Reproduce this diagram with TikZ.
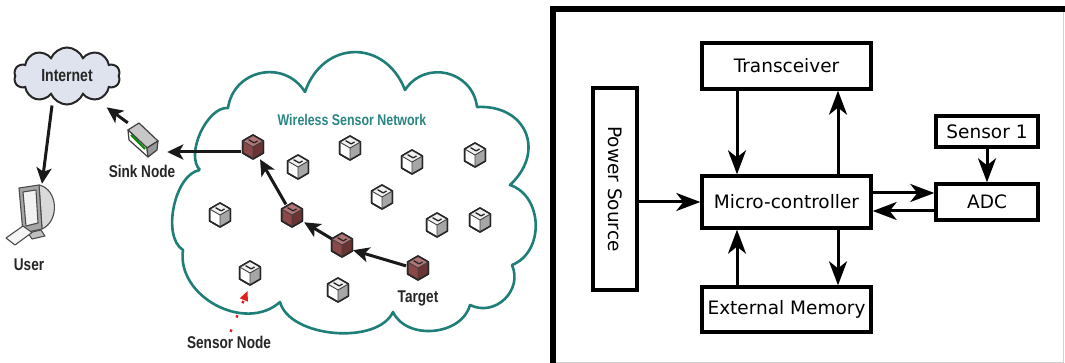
\documentclass[tikz,border=0pt]{standalone}
\usepackage{fontspec}
\setmainfont{DejaVu Sans}
\newfontfamily\tagfont[FakeStretch=0.8]{Liberation Sans}
\usetikzlibrary{arrows.meta,shapes.symbols}

\definecolor{wsnteal}{HTML}{1F7F78}
\definecolor{wsntext}{HTML}{2A8585}
\definecolor{netfill}{HTML}{DEE3EE}
\definecolor{pointer}{HTML}{E0201A}
% face colours of the sensor motes
\colorlet{whitetop}{black!6}
\colorlet{whiteleft}{white}
\colorlet{whiteright}{black!35}
\definecolor{redtop}{HTML}{B27575}
\definecolor{redleft}{HTML}{8A4848}
\definecolor{redright}{HTML}{6A3434}

\tikzset{
  box/.style={draw, line width=3.4pt, inner sep=0pt, font=\fontsize{18.5}{22}\selectfont},
  flow/.style={line width=3pt, -{Stealth[length=24pt,width=18pt,inset=7pt]}},
  link/.style={line width=3pt, black!90, -{Stealth[length=16pt,width=15pt,inset=4pt]}},
  tag/.style={font=\tagfont\bfseries\fontsize{17}{19}\selectfont, text=black!85, inner sep=0pt},
  motenode/.style={circle, minimum size=24pt, inner sep=0pt},
  pics/mote/.style={code={
    \filldraw[fill=#1left, draw=black!85, line width=1.5pt, line join=round]
      (0,-12) -- (10.4,-6) -- (10.4,6) -- (0,12) -- (-10.4,6) -- (-10.4,-6) -- cycle;
    \fill[#1top] (0,-12) -- (10.4,-6) -- (0,0) -- (-10.4,-6) -- cycle;
    \fill[#1right] (0,0) -- (10.4,-6) -- (10.4,6) -- (0,12) -- cycle;
    \draw[black!85, line width=1.5pt, line join=round]
      (0,-12) -- (10.4,-6) -- (10.4,6) -- (0,12) -- (-10.4,6) -- (-10.4,-6) -- cycle;
    \draw[black!75, line width=0.9pt] (-10.4,-6) -- (0,0) -- (10.4,-6) (0,0) -- (0,12);
    \draw[black!85, line width=1.3pt, line join=round] (-4.4,-7.3) -- (1.2,-4.1) -- (4.5,-6);
  }}
}

\begin{document}
\begin{tikzpicture}[x=1pt,y=-1pt]
\useasboundingbox (0,0) rectangle (1065,363);
\fill[white] (0,0) rectangle (1065,363);

% ---------------- left: wireless sensor network ----------------
% network cloud
\draw[wsnteal, line width=2.6pt, line join=round]
  (200,170) to[bend left=70, looseness=0.8] (228,108)
            to[bend left=70, looseness=1.27] (305,92)
            to[bend left=70, looseness=1.41] (405,90)
            to[bend left=70, looseness=1.27] (477,107)
            to[bend left=70, looseness=1.49] (510,185)
            to[bend left=70, looseness=1.12] (512,265)
            to[bend left=70, looseness=1.23] (470,305)
            to[bend left=70, looseness=1.05] (393,312)
            to[bend left=70, looseness=0.83] (280,302)
            to[bend left=70, looseness=1.09] (183,250)
            to[bend left=70, looseness=0.8] (200,170);
\node[font=\tagfont\bfseries\fontsize{15.5}{18}\selectfont, text=wsntext, inner sep=0pt]
  (wsnlabel) at (352,120) {Wireless Sensor Network};

% internet
\node[cloud, cloud puffs=10, cloud puff arc=135, aspect=2, draw=black!85, fill=netfill,
      line width=2pt, minimum width=106pt, minimum height=57pt, inner sep=0pt,
      font=\tagfont\bfseries\fontsize{17.5}{19}\selectfont, text=black!85]
  (internet) at (67,76) {Internet};

% user workstation
\node[inner sep=0pt, minimum width=40pt, minimum height=58pt] (user) at (42,213) {};
\begin{scope}[shift={(user.center)}, draw=black!70, line width=1.1pt, line join=round]
  \filldraw[fill=black!15] (-3,-28) .. controls (16,-24) and (18,8) .. (0,16) -- cycle;
  \filldraw[fill=black!35] (-23,-25) -- (-3,-28) -- (0,16) -- (-19,20) -- cycle;
  \filldraw[fill=black!5] (-19,-21) -- (-6,-23) -- (-4,10) -- (-16,13) -- cycle;
  \filldraw[fill=black!25] (-14,20) -- (-1,17) -- (3,23) -- (-10,26) -- cycle;
  \filldraw[fill=black!4] (-36,25) -- (-19,13) -- (-10,19.5) -- (-27,32) -- cycle;
\end{scope}
\node[tag] (userlabel) at (29,265) {User};

% sink node
\node[inner sep=0pt, minimum width=30pt, minimum height=34pt] (sink) at (143,140) {};
\begin{scope}[shift={(sink.center)}, draw=black!75, line width=1.2pt, line join=round]
  \filldraw[fill=black!22] (-15,-10) -- (-4,-17) -- (15,1) -- (4,8) -- cycle;
  \filldraw[fill=white] (-15,-10) -- (4,8) -- (5,17) -- (-14,0) -- cycle;
  \filldraw[fill=black!40] (4,8) -- (15,1) -- (14,10) -- (5,17) -- cycle;
  \draw[green!55!black, line width=1.8pt] (-12,-5) -- (2,9);
\end{scope}
\node[tag] (sinklabel) at (142,171) {Sink Node};

% sensor motes
\node[motenode] (r1) at (253,147) {};
\node[motenode] (r2) at (292,215) {};
\node[motenode] (r3) at (342,245) {};
\node[motenode] (r4) at (418,268) {};
\node[motenode] (w1) at (298,167) {};
\node[motenode] (w2) at (350,148) {};
\node[motenode] (w3) at (412,162) {};
\node[motenode] (w4) at (475,155) {};
\node[motenode] (w5) at (382,197) {};
\node[motenode] (w6) at (220,215) {};
\node[motenode] (w7) at (437,225) {};
\node[motenode] (w8) at (480,220) {};
\node[motenode] (w9) at (250,273) {};
\node[motenode] (w10) at (338,290) {};
\foreach \m in {r1,r2,r3,r4} { \pic at (\m) {mote=red}; }
\foreach \m in {w1,w2,w3,w4,w5,w6,w7,w8,w9,w10} { \pic at (\m) {mote=white}; }

\node[tag] (targetlabel) at (418,298) {Target};
\node[tag] (snlabel) at (229,342) {Sensor Node};

% data path
\draw[link] (r4.170) -- (r3.-25);
\draw[link, shorten >=2pt] (r3) -- (r2);
\draw[link, shorten >=2pt] (r2) -- (r1);
\draw[link, shorten >=9pt] ([yshift=-5pt]r1.west) -- ([yshift=-5pt]r1.west -| sink.east);
\draw[link, shorten >=12pt] (sink.north west) -- (internet.-39);
\draw[link] ([xshift=-15pt]internet.south) -- (user.north);

% pointer from the caption to a mote
\draw[pointer, line width=2.4pt, dash pattern=on 2.5pt off 13pt, dash phase=11.5pt,
      shorten >=6pt, -{Triangle[length=10pt,width=8pt]}] (snlabel.north) -- (w9.south);

% ---------------- right: sensor node architecture ----------------
\draw[line width=5.5pt] (553,363) -- (553,9) -- (1065,9);
\draw[black!18, line width=1pt] (556,362) -- (1063,362) -- (1063,12);

\node[box, minimum width=169pt, minimum height=46pt] (trans) at (786.5,66) {Transceiver};
\node[box, minimum width=169pt, minimum height=52pt] (mc) at (786.5,202) {Micro-controller};
\node[box, minimum width=169pt, minimum height=45pt] (ext) at (786.5,309.5) {External Memory};
\node[box, minimum width=44pt, minimum height=202pt] (power) at (615,189) {};
\node[rotate=-90, inner sep=0pt, font=\fontsize{18.5}{22}\selectfont] (powerlabel) at (power.center) {Power Source};
\node[box, minimum width=102pt, minimum height=31pt] (sensor) at (987,131.5) {Sensor 1};
\node[box, minimum width=102pt, minimum height=36pt] (adc) at (987,202) {ADC};

\coordinate (xl) at (737,0);
\coordinate (xr) at (838,0);
\coordinate (yo) at (0,193);
\coordinate (yi) at (0,211);

\draw[flow] (trans.south -| xl) -- (mc.north -| xl);
\draw[flow] (mc.north -| xr) -- (trans.south -| xr);
\draw[flow] (ext.north -| xl) -- (mc.south -| xl);
\draw[flow] (mc.south -| xr) -- (ext.north -| xr);
\draw[flow] (power.east |- mc.west) -- (mc.west);
\draw[flow] (mc.east |- yo) -- (adc.west |- yo);
\draw[flow] (adc.west |- yi) -- (mc.east |- yi);
\draw[flow] (sensor.south) -- (adc.north);
\end{tikzpicture}
\end{document}
